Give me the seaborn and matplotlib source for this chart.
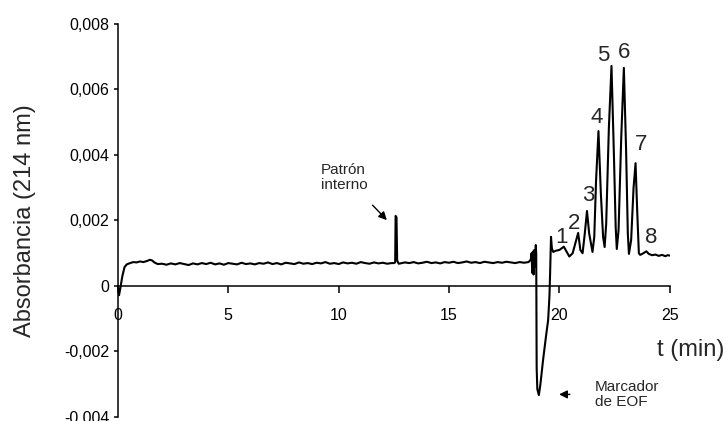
import pandas as pd
import seaborn as sns
import matplotlib.pyplot as plt

# Trace: time (min) and absorbance at 214 nm
t_start = [0.00, 0.05, 0.10, 0.20, 0.30, 0.40, 0.55, 0.70, 0.85, 1.00, 1.15, 1.30, 1.45, 1.55, 1.65, 1.80]
a_start = [0.0, -0.00028, -0.00010, 0.00030, 0.00058, 0.00066, 0.00070, 0.00073, 0.00072, 0.00075,
           0.00073, 0.00076, 0.00080, 0.00078, 0.00072, 0.00067]

t_base1 = [2.0, 2.2, 2.4, 2.6, 2.8, 3.0, 3.2, 3.4, 3.6, 3.8, 4.0, 4.2, 4.4, 4.6, 4.8, 5.0, 5.2, 5.4,
           5.6, 5.8, 6.0, 6.2, 6.4, 6.6, 6.8, 7.0, 7.2, 7.4, 7.6, 7.8, 8.0, 8.2, 8.4, 8.6, 8.8, 9.0,
           9.2, 9.4, 9.6, 9.8, 10.0, 10.2, 10.4, 10.6, 10.8, 11.0, 11.2, 11.4, 11.6, 11.8, 12.0,
           12.2, 12.4]
a_base1 = [0.00068, 0.00065, 0.00069, 0.00066, 0.00070, 0.00067, 0.00064, 0.00069, 0.00066, 0.00070,
           0.00067, 0.00071, 0.00066, 0.00069, 0.00065, 0.00070, 0.00068, 0.00066, 0.00071, 0.00067,
           0.00069, 0.00066, 0.00070, 0.00068, 0.00072, 0.00067, 0.00070, 0.00066, 0.00071, 0.00069,
           0.00067, 0.00072, 0.00068, 0.00070, 0.00067, 0.00071, 0.00069, 0.00073, 0.00068, 0.00070,
           0.00067, 0.00072, 0.00069, 0.00071, 0.00068, 0.00073, 0.00070, 0.00068, 0.00072, 0.00069,
           0.00071, 0.00068, 0.00070]

# internal standard spike
t_istd = [12.50, 12.56, 12.58, 12.62, 12.65, 12.72]
a_istd = [0.00070, 0.00072, 0.00214, 0.00210, 0.00078, 0.00068]

t_base2 = [12.8, 13.0, 13.2, 13.4, 13.6, 13.8, 14.0, 14.2, 14.4, 14.6, 14.8, 15.0, 15.2, 15.4,
           15.6, 15.8, 16.0, 16.2, 16.4, 16.6, 16.8, 17.0, 17.2, 17.4, 17.6, 17.8, 18.0, 18.2,
           18.4, 18.6]
a_base2 = [0.00069, 0.00072, 0.00070, 0.00073, 0.00069, 0.00071, 0.00074, 0.00070, 0.00072, 0.00069,
           0.00073, 0.00071, 0.00074, 0.00070, 0.00072, 0.00075, 0.00071, 0.00073, 0.00070, 0.00074,
           0.00072, 0.00070, 0.00073, 0.00071, 0.00074, 0.00072, 0.00070, 0.00073, 0.00071, 0.00073]

# EOF marker dip
t_eof = [18.70, 18.74, 18.77, 18.80, 18.83, 18.86, 18.90, 18.93, 18.95, 18.97, 19.00, 19.07,
         19.14, 19.26, 19.40, 19.49, 19.55, 19.58, 19.62, 19.66, 19.72, 19.85, 20.00]
a_eof = [0.00080, 0.00100, 0.00040, 0.00105, 0.00035, 0.00110, 0.00060, 0.00125, 0.00100,
         -0.00250, -0.00315, -0.00333, -0.00300, -0.00226, -0.00150, -0.00104, -0.00030,
         0.00040, 0.00150, 0.00115, 0.00104, 0.00108, 0.00110]

# analyte peaks 1-8
t_peaks = [20.10, 20.20, 20.30, 20.45, 20.60, 20.72, 20.85, 20.95, 21.05, 21.15, 21.25, 21.35,
           21.50, 21.58, 21.66, 21.77, 21.88, 21.98, 22.05, 22.12, 22.24, 22.36, 22.47, 22.55,
           22.60, 22.68, 22.80, 22.92, 23.02, 23.10, 23.15, 23.25, 23.36, 23.45, 23.53, 23.60,
           23.66, 23.75, 23.85, 23.94, 24.05, 24.20, 24.35, 24.50, 24.65, 24.80, 24.90, 25.00]
a_peaks = [0.00115, 0.00120, 0.00108, 0.00090, 0.00100, 0.00130, 0.00162, 0.00110, 0.00100,
           0.00160, 0.00229, 0.00160, 0.00104, 0.00150, 0.00320, 0.00473, 0.00280, 0.00150,
           0.00119, 0.00190, 0.00480, 0.00672, 0.00400, 0.00180, 0.00113, 0.00170, 0.00450,
           0.00666, 0.00420, 0.00160, 0.00098, 0.00140, 0.00300, 0.00375, 0.00220, 0.00100,
           0.00095, 0.00098, 0.00102, 0.00106, 0.00098, 0.00094, 0.00096, 0.00092, 0.00095,
           0.00091, 0.00094, 0.00093]

peak_labels = ['1', '2', '3', '4', '5', '6', '7', '8']
peak_label_t = [20.11, 20.65, 21.29, 21.69, 21.97, 22.92, 23.69, 24.14]
peak_label_a = [0.00147, 0.00192, 0.00275, 0.00516, 0.00705, 0.00714, 0.00433, 0.00147]

x_ticks = [0, 5, 10, 15, 20, 25]
y_ticks = [-0.004, -0.002, 0, 0.002, 0.004, 0.006, 0.008]
y_tick_labels = ['-0,004', '-0,002', '0', '0,002', '0,004', '0,006', '0,008']

df = pd.DataFrame({
    't': t_start + t_base1 + t_istd + t_base2 + t_eof + t_peaks,
    'a': a_start + a_base1 + a_istd + a_base2 + a_eof + a_peaks,
})

sns.set_style('ticks')
plt.rcParams['font.family'] = ['Liberation Sans', 'DejaVu Sans']

fig, ax = plt.subplots(figsize=(7.28, 4.21), dpi=100)
fig.subplots_adjust(left=0.162, right=0.920, bottom=0.0095, top=0.943)

sns.lineplot(data=df, x='t', y='a', estimator=None, sort=False, color='black', linewidth=1.5, ax=ax)

ax.set_xlim(0, 25)
ax.set_ylim(-0.004, 0.008)
ax.spines['top'].set_visible(False)
ax.spines['right'].set_visible(False)
ax.spines['bottom'].set_position(('data', 0))
for s in ['left', 'bottom']:
    ax.spines[s].set_linewidth(1.1)
    ax.spines[s].set_color('black')

ax.set_xticks(x_ticks)
ax.set_xticklabels([str(v) for v in x_ticks])
ax.set_yticks(y_ticks)
ax.set_yticklabels(y_tick_labels)
ax.tick_params(axis='x', direction='out', length=5, width=1.1, pad=10.5, labelsize=11.5, colors='black')
ax.tick_params(axis='y', direction='out', length=3, width=1.1, pad=3, labelsize=11.5, colors='black')

ax.set_xlabel('')
ax.set_ylabel('Absorbancia (214 nm)', fontsize=17)
ax.yaxis.set_label_coords(-0.149, 0.5)
ax.text(24.4, -0.00195, 't (min)', fontsize=17, ha='left', va='center', clip_on=False)

for lab, x, y in zip(peak_labels, peak_label_t, peak_label_a):
    ax.text(x, y, lab, fontsize=16, ha='center', va='center')

arrow = dict(arrowstyle='-|>', color='black', lw=1, mutation_scale=12)
ax.annotate('', xy=(12.27, 0.00195), xytext=(11.45, 0.00253), arrowprops=arrow)
ax.text(9.18, 0.00376, 'Patrón\ninterno', fontsize=11, ha='left', va='top', linespacing=1.1)
ax.annotate('', xy=(19.86, -0.00331), xytext=(20.6, -0.00331), arrowprops=arrow)
ax.text(21.6, -0.00287, 'Marcador\nde EOF', fontsize=11, ha='left', va='top', linespacing=1.1)

plt.savefig('out.png', dpi=100)
